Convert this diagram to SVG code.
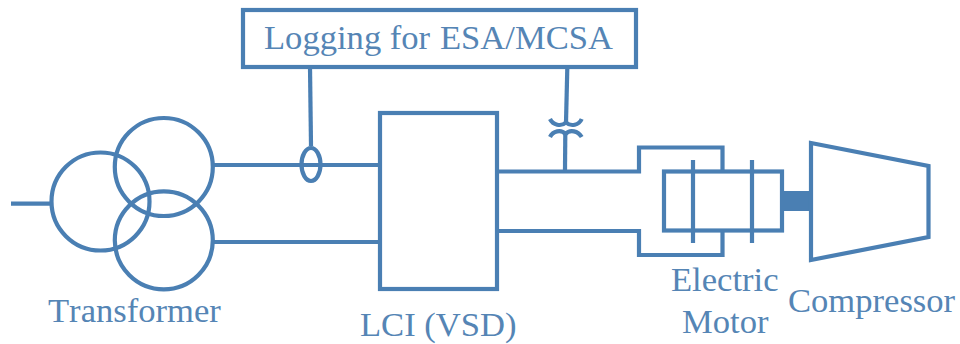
<svg xmlns="http://www.w3.org/2000/svg" width="960" height="344" viewBox="0 0 960 344">
<style>
.s{fill:none;stroke:#4a7fb3;stroke-width:4.200}
.t{font-family:"Liberation Serif","Times New Roman",serif;font-size:34.600px;fill:#5585b5;font-kerning:none}
</style>
<rect width="960" height="344" fill="#fff"/>
<g id="connectors">
<path class="s" d="M11 203.700H51"/>
<path class="s" d="M214 165H380"/>
<path class="s" d="M214 242H380"/>
<path class="s" d="M310 67L311 146"/>
<path class="s" d="M567.300 68L566 123"/>
<path class="s" d="M565.300 134L565 170"/>
<path class="s" d="M499 171.500H639V147.500H722.500V171.500"/>
<path class="s" d="M499 231H639V255H722.500V231"/>
<path class="s" d="M550 119C553 125 561 127 566 122.500C571 127 579 125 581.700 119"/>
<path class="s" d="M550 137C553 131 561 129 565.500 134C570 129 578 131 581.700 137"/>
</g>
<g id="logging">
<rect class="s" x="243" y="10" width="393" height="57"/>
<text class="t" x="264" y="49">Logging for<tspan x="440">ESA/MCSA</tspan></text>
</g>
<g id="transformer">
<circle class="s" cx="100.500" cy="201.500" r="49"/>
<circle class="s" cx="163.800" cy="167" r="49"/>
<circle class="s" cx="163.800" cy="240.300" r="49"/>
<text class="t" x="48" y="322">Transformer</text>
</g>
<g id="ct"><ellipse class="s" cx="311" cy="164.500" rx="9.500" ry="16.500"/></g>
<g id="lci">
<rect class="s" x="380" y="113" width="117" height="176"/>
<text class="t" x="360" y="336">LCI (VSD)</text>
</g>
<g id="motor">
<rect class="s" x="664" y="171.500" width="118" height="59"/>
<path class="s" d="M693 160V243M752 160V243"/>
<text class="t" x="671" y="291">Electric</text>
<text class="t" x="682" y="333">Motor</text>
</g>
<g id="shaft"><rect x="781" y="191" width="31" height="20" fill="#4a7fb3"/></g>
<g id="compressor">
<path class="s" d="M811 143L928.500 166V237L811 260Z"/>
<text class="t" x="788" y="311.500">Compressor</text>
</g>
</svg>
